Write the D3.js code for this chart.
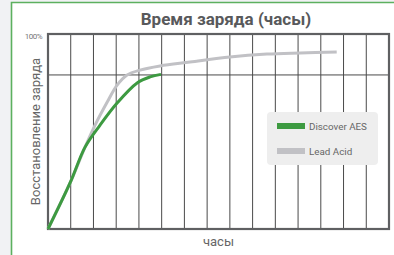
<!DOCTYPE html>
<html>
<head>
<meta charset="utf-8">
<script src="https://cdn.jsdelivr.net/npm/d3@7"></script>
<style>
  body { margin: 0; background: #f1f2f4; }
  svg { display: block; }
</style>
</head>
<body>
<div id="chart"></div>
<script>
const width = 394;
const height = 255;

// hours on x, charge recovery % on y
const aesHours = [0, 0.97, 1.63, 2.29, 3.04, 3.92, 4.49, 4.97];
const aesCharge = [0, 23.6, 42, 53.3, 64.6, 74.9, 78, 79.3];
const leadHours = [0, 0.97, 1.63, 2.07, 2.6, 3.04, 3.48, 4.05, 4.93, 6.25, 8.0, 9.63, 11.1, 12.7];
const leadCharge = [0, 23.6, 42, 53.3, 65, 73.8, 79, 81.5, 83.6, 85.6, 88.2, 89.7, 90.3, 90.8];
const seriesNames = ["Discover AES", "Lead Acid"];
const hourTicks = d3.range(0, 16);
const chargeTicks = [79];

const margin = { top: 34, right: 5, bottom: 26, left: 48 };

const svg = d3.select("#chart")
  .append("svg")
  .attr("width", width)
  .attr("height", height);

// white panel with green edge
svg.append("rect")
  .attr("x", 11).attr("y", 2)
  .attr("width", width - 11).attr("height", height)
  .attr("fill", "#fff");
svg.append("path")
  .attr("d", `M11.5,${height} V2.5 H${width}`)
  .attr("fill", "none")
  .attr("stroke", "#5cb05f")
  .attr("stroke-width", 1.6);

const x = d3.scaleLinear().domain([0, 15]).range([margin.left, width - margin.right]);
const y = d3.scaleLinear().domain([0, 100]).range([height - margin.bottom, margin.top]);

// grid
svg.append("g")
  .selectAll("line")
  .data(hourTicks.slice(1, -1))
  .join("line")
  .attr("x1", d => x(d)).attr("x2", d => x(d))
  .attr("y1", y(0)).attr("y2", y(100))
  .attr("stroke", "#4a4a4a")
  .attr("stroke-width", 1);

svg.append("g")
  .selectAll("line")
  .data(chargeTicks)
  .join("line")
  .attr("x1", x(0)).attr("x2", x(15))
  .attr("y1", d => y(d)).attr("y2", d => y(d))
  .attr("stroke", "#4a4a4a")
  .attr("stroke-width", 1);

// frame
svg.append("rect")
  .attr("x", x(0)).attr("y", y(100))
  .attr("width", x(15) - x(0)).attr("height", y(0) - y(100))
  .attr("fill", "none")
  .attr("stroke", "#5f6062")
  .attr("stroke-width", 2.2);

const line = d3.line()
  .x(d => x(d[0]))
  .y(d => y(d[1]))
  .curve(d3.curveCatmullRom.alpha(0.5));

svg.append("path")
  .datum(d3.zip(leadHours, leadCharge))
  .attr("d", line)
  .attr("fill", "none")
  .attr("stroke", "#c1c1c5")
  .attr("stroke-width", 3);

svg.append("path")
  .datum(d3.zip(aesHours, aesCharge))
  .attr("d", line)
  .attr("fill", "none")
  .attr("stroke", "#3d9a41")
  .attr("stroke-width", 3);

// legend
const colors = ["#3d9a41", "#c1c1c5"];
const legend = svg.append("g").attr("transform", "translate(267,112)");
legend.append("rect")
  .attr("width", 111).attr("height", 53)
  .attr("rx", 4)
  .attr("fill", "#eeeeee");
seriesNames.forEach((name, i) => {
  const g = legend.append("g").attr("transform", `translate(10,${11 + i * 25})`);
  g.append("rect")
    .attr("width", 28).attr("height", 6)
    .attr("fill", colors[i]);
  g.append("text")
    .attr("x", 32).attr("y", 6.5)
    .attr("font-family", "Roboto, sans-serif")
    .attr("font-size", "9.8px")
    .attr("fill", "#666")
    .text(name);
});

// texts
svg.append("text")
  .attr("x", 226).attr("y", 25)
  .attr("text-anchor", "middle")
  .attr("font-family", "Roboto, sans-serif")
  .attr("font-weight", "bold")
  .attr("font-size", "17px")
  .attr("fill", "#58595b")
  .text("Время заряда (часы)");

svg.append("text")
  .attr("x", 42).attr("y", 39)
  .attr("text-anchor", "end")
  .attr("font-family", "Roboto, sans-serif")
  .attr("font-size", "8px")
  .attr("letter-spacing", "-0.5px")
  .attr("fill", "#777")
  .text("100%");

svg.append("text")
  .attr("transform", `translate(40,${(y(0) + y(100)) / 2}) rotate(-90)`)
  .attr("text-anchor", "middle")
  .attr("font-family", "Roboto, sans-serif")
  .attr("font-size", "13px")
  .attr("fill", "#666")
  .text("Восстановление заряда");

svg.append("text")
  .attr("x", (x(0) + x(15)) / 2).attr("y", 246)
  .attr("text-anchor", "middle")
  .attr("font-family", "Roboto, sans-serif")
  .attr("font-size", "13px")
  .attr("fill", "#666")
  .text("часы");
</script>
</body>
</html>
